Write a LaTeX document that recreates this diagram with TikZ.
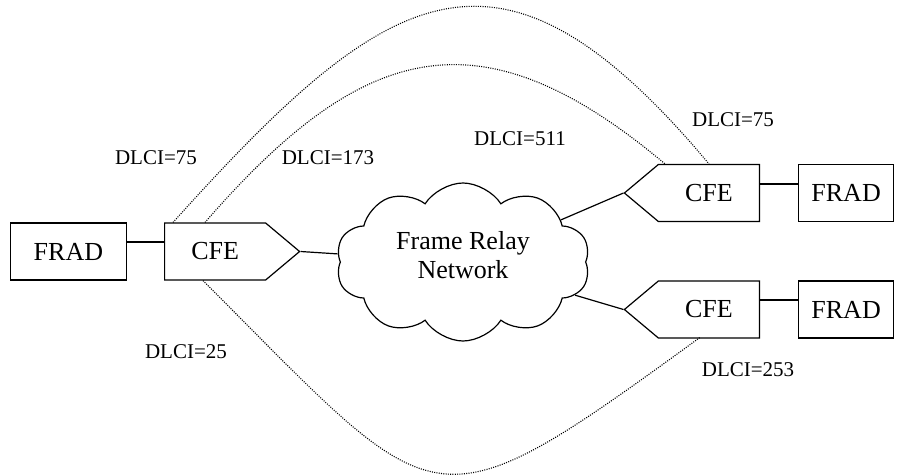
\documentclass[tikz,border=0pt]{standalone}
\usepackage{fontspec}
\setmainfont{Liberation Serif}
\usepackage{tikz}
\usetikzlibrary{shapes.symbols}
\usetikzlibrary{positioning}
\tikzset{
    boxnode/.style = {align=center, inner sep=0pt, text centered, draw=black, line width=1.2pt, font=\fontsize{26}{29}\selectfont},
    frad_node/.style = {boxnode, rectangle, minimum height=57pt},
    cfe_node/.style = {boxnode, signal, signal pointer angle=80, minimum width=135pt, minimum height=57pt},
    net_node/.style = {boxnode, cloud, cloud puffs=10, cloud puff arc=115, aspect=1.6, minimum width=254pt, minimum height=158pt},
    dlci/.style = {inner sep=0pt, font=\fontsize{21}{24}\selectfont},
    link/.style = {line width=1.2pt},
    vc_line/.style = {line width=1.1pt, dash pattern=on 1pt off 1.3pt}
}

\begin{document}
\begin{tikzpicture}
            [x=1pt, y=1pt, node distance=37pt]

            \useasboundingbox (0,0) rectangle (904,475);

            % edge devices
            \node [cfe_node, signal to=east, anchor=west] (cfeL) at (164,223.5) {CFE};
            \node [frad_node, minimum width=116pt, left=of cfeL] (fradL) {FRAD};
            \node [cfe_node, signal to=west, anchor=east] (cfeA) at (760,282) {CFE};
            \node [frad_node, minimum width=95pt, right=38pt of cfeA] (fradA) {FRAD};
            \node [cfe_node, signal to=west, anchor=east] (cfeB) at (760,165.5) {CFE};
            \node [frad_node, minimum width=95pt, right=38pt of cfeB] (fradB) {FRAD};

            % network
            \node [net_node] (net) at (463,213) {Frame Relay\\Network\\[-14pt]\hspace*{-10pt}};

            \draw [link] ([yshift=9.5pt]fradL.east) -- ([yshift=9.5pt]cfeL.west);
            \draw [link] ([yshift=9pt]cfeA.east) -- ([yshift=9pt]fradA.west);
            \draw [link] ([yshift=9.5pt]cfeB.east) -- ([yshift=9.5pt]fradB.west);
            \draw [link] (cfeL.east) -- (net);
            \draw [link] (cfeA.west) -- (net);
            \draw [link] (cfeB.west) -- (net);

            % virtual circuits
            \draw [vc_line] ([xshift=9pt]cfeL.north west) .. controls +(48:325) and +(130:325) .. ([xshift=-51pt]cfeA.north east);
            \draw [vc_line] ([xshift=41pt]cfeL.north west) .. controls +(49:241) and +(140:241) .. ([xshift=-95pt]cfeA.north east);
            \draw [vc_line] ([xshift=39pt]cfeL.south west) .. controls +(-45:338) and +(-144:338) .. ([xshift=-60pt]cfeB.south east);

            % labels
            \node [dlci] (l75a) at (156,317) {DLCI=75};
            \node [dlci] (l173) at (328,317) {DLCI=173};
            \node [dlci] (l511) at (520,336) {DLCI=511};
            \node [dlci] (l75b) at (733,355) {DLCI=75};
            \node [dlci] (l25) at (186,123) {DLCI=25};
            \node [dlci] (l253) at (748,105) {DLCI=253};
\end{tikzpicture}
\end{document}
